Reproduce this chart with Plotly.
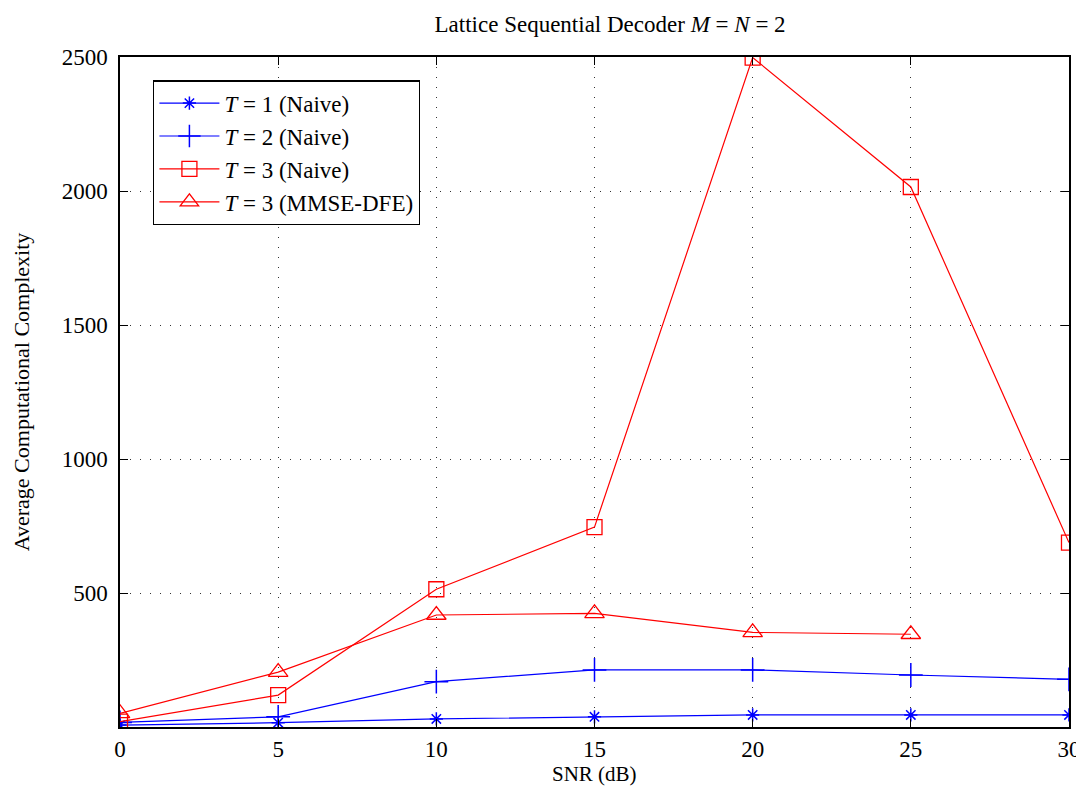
import plotly.graph_objects as go

snr = [0, 5, 10, 15, 20, 25, 30]
snr_mmse = [0, 5, 10, 15, 20, 25]
t1_naive = [7, 16, 30, 38, 45, 45, 45]
t2_naive = [17, 38, 169, 213, 213, 194, 178]
t3_naive = [20, 119, 514, 746, 2498, 2015, 688]
t3_mmse = [51, 205, 418, 424, 353, 346]

yticks = [500, 1000, 1500, 2000, 2500]
xticks = [0, 5, 10, 15, 20, 25, 30]

FONT = "Liberation Serif"

fig = go.Figure()
fig.add_trace(go.Scatter(x=snr, y=t1_naive, mode="lines+markers",
                         name="<i>T</i> = 1 (Naive)",
                         line=dict(color="#0000FF", width=1.2),
                         marker=dict(symbol="asterisk-open", size=11,
                                     line=dict(color="#0000FF", width=1.5))))
fig.add_trace(go.Scatter(x=snr, y=t2_naive, mode="lines+markers",
                         name="<i>T</i> = 2 (Naive)",
                         line=dict(color="#0000FF", width=1.2),
                         marker=dict(symbol="cross-thin-open", size=17,
                                     line=dict(color="#0000FF", width=1.5))))
fig.add_trace(go.Scatter(x=snr, y=t3_naive, mode="lines+markers",
                         name="<i>T</i> = 3 (Naive)",
                         line=dict(color="#FF0000", width=1.2),
                         marker=dict(symbol="square-open", size=15,
                                     line=dict(color="#FF0000", width=1.3))))
fig.add_trace(go.Scatter(x=snr_mmse, y=t3_mmse, mode="lines+markers",
                         name="<i>T</i> = 3 (MMSE-DFE)",
                         line=dict(color="#FF0000", width=1.2),
                         marker=dict(symbol="triangle-up-open", size=17,
                                     line=dict(color="#FF0000", width=1.3))))

axis_common = dict(showline=True, linecolor="black", linewidth=1.5, mirror="ticks",
                   ticks="inside", ticklen=8, tickcolor="black", tickwidth=1,
                   showgrid=True, gridcolor="#333333", griddash="1px,9px", gridwidth=1,
                   zeroline=False, ticklabeloverflow="allow",
                   tickfont=dict(family=FONT, size=23, color="black"))

fig.update_xaxes(range=[-0.0005, 30.0005], tickvals=xticks, ticktext=[str(v) for v in xticks],
                 ticklabelstandoff=1,
                 **axis_common)
fig.update_yaxes(range=[0, 2500], tickvals=yticks, ticktext=[str(v) for v in yticks],
                 title=dict(text="Average Computational Complexity",
                            font=dict(family=FONT, size=22, color="black"), standoff=26),
                 ticklabelstandoff=6,
                 **axis_common)

fig.add_annotation(text="SNR (dB)", xref="paper", yref="paper", x=0.5, y=-0.0705,
                   xanchor="center", yanchor="middle", showarrow=False, borderpad=0,
                   font=dict(family=FONT, size=21, color="black"))

fig.update_layout(
    width=1076, height=787,
    margin=dict(l=120, r=7, t=57, b=60, autoexpand=False),
    paper_bgcolor="white", plot_bgcolor="white",
    title=dict(text="Lattice Sequential Decoder <i>M</i> = <i>N</i> = 2",
               font=dict(family=FONT, size=23, color="black"),
               x=0.567, xanchor="center", y=0.97, yanchor="middle"),
    legend=dict(x=0.035, y=0.965, xanchor="left", yanchor="top",
                bgcolor="white", bordercolor="black", borderwidth=1.2,
                font=dict(family=FONT, size=23, color="black"),
                tracegroupgap=0, itemwidth=60),
    showlegend=True,
)

fig.write_html("out.html")
